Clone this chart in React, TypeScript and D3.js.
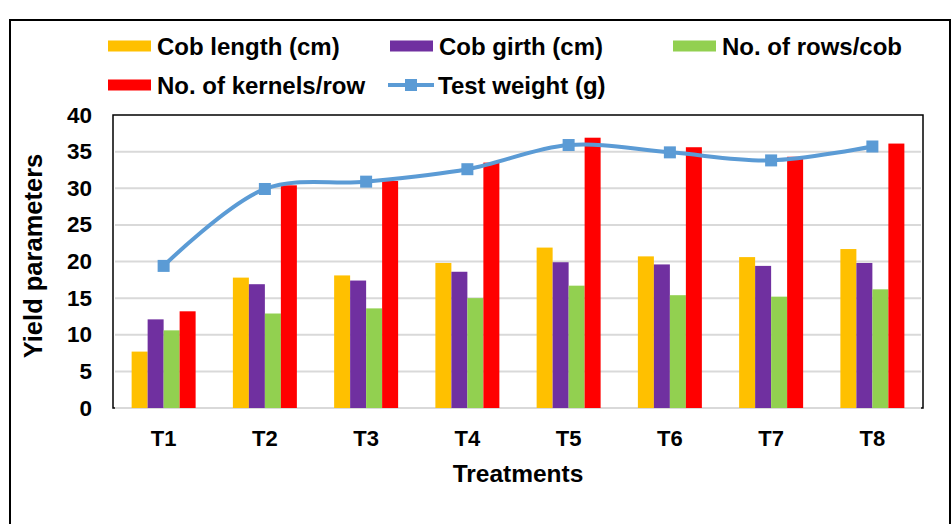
// Yield parameters by treatment: grouped bars (4 traits) + smoothed test-weight line.
import { useEffect, useRef } from "react";
import * as d3 from "d3";

const treatments = ["T1", "T2", "T3", "T4", "T5", "T6", "T7", "T8"];
const cobLength = [7.7, 17.8, 18.1, 19.8, 21.9, 20.7, 20.6, 21.7];
const cobGirth = [12.1, 16.9, 17.4, 18.6, 19.9, 19.6, 19.4, 19.8];
const rowsPerCob = [10.6, 12.9, 13.6, 15.0, 16.7, 15.4, 15.2, 16.2];
const kernelsPerRow = [13.2, 30.4, 31.0, 33.5, 36.9, 35.6, 34.3, 36.1];
const testWeight = [19.4, 29.9, 30.9, 32.6, 35.9, 34.9, 33.8, 35.7];
const yTicks = [0, 5, 10, 15, 20, 25, 30, 35, 40];

const barSeries = [
  { key: "Cob length (cm)", values: cobLength, color: "#ffc000" },
  { key: "Cob girth (cm)", values: cobGirth, color: "#7030a0" },
  { key: "No. of rows/cob", values: rowsPerCob, color: "#92d050" },
  { key: "No. of kernels/row", values: kernelsPerRow, color: "#ff0000" },
];
const LINE_COLOR = "#5b9bd5";
const FONT = "'Liberation Sans', Arial, sans-serif";

export default function App() {
  const ref = useRef<SVGSVGElement>(null);

  useEffect(() => {
    const svg = d3.select(ref.current!);
    svg.selectAll("*").remove();

    const H = 524;
    const plot = { left: 113, top: 115, right: 923, bottom: 408 };

    // outer frame
    svg
      .append("rect")
      .attr("x", 10)
      .attr("y", 20)
      .attr("width", 940)
      .attr("height", H)
      .attr("fill", "#fff")
      .attr("stroke", "#000")
      .attr("stroke-width", 2);

    const x0 = d3
      .scaleBand<string>()
      .domain(treatments)
      .range([plot.left, plot.right])
      .paddingInner(0.368)
      .paddingOuter(0.184);
    const x1 = d3
      .scaleBand<string>()
      .domain(barSeries.map((s) => s.key))
      .range([0, x0.bandwidth()]);
    const y = d3.scaleLinear().domain([0, 40]).range([plot.bottom, plot.top]);

    // plot-area border
    svg
      .append("rect")
      .attr("x", plot.left)
      .attr("y", plot.top)
      .attr("width", plot.right - plot.left)
      .attr("height", plot.bottom - plot.top)
      .attr("fill", "none")
      .attr("stroke", "#000")
      .attr("stroke-width", 1.5);

    // gridlines
    svg
      .append("g")
      .selectAll("line")
      .data(yTicks.filter((t) => t < 40))
      .join("line")
      .attr("x1", plot.left + 2)
      .attr("x2", plot.right - 2)
      .attr("y1", (d) => y(d))
      .attr("y2", (d) => y(d))
      .attr("stroke", "#d9d9d9")
      .attr("stroke-width", 2);

    // bars
    const groups = svg
      .append("g")
      .selectAll("g")
      .data(treatments)
      .join("g")
      .attr("transform", (d) => `translate(${x0(d)},0)`);
    groups
      .selectAll("rect")
      .data((_, i) => barSeries.map((s) => ({ key: s.key, color: s.color, v: s.values[i] })))
      .join("rect")
      .attr("x", (d) => x1(d.key)!)
      .attr("width", x1.bandwidth())
      .attr("y", (d) => y(d.v))
      .attr("height", (d) => y(0) - y(d.v))
      .attr("fill", (d) => d.color);

    // test weight line
    const cx = (t: string) => x0(t)! + x0.bandwidth() / 2;
    const line = d3
      .line<number>()
      .x((_, i) => cx(treatments[i]))
      .y((d) => y(d))
      .curve(d3.curveCatmullRom.alpha(0.5));
    svg
      .append("path")
      .attr("d", line(testWeight))
      .attr("fill", "none")
      .attr("stroke", LINE_COLOR)
      .attr("stroke-width", 4);
    svg
      .append("g")
      .selectAll("rect")
      .data(testWeight)
      .join("rect")
      .attr("x", (_, i) => cx(treatments[i]) - 6)
      .attr("y", (d) => y(d) - 6)
      .attr("width", 12)
      .attr("height", 12)
      .attr("fill", LINE_COLOR);

    // y tick labels
    svg
      .append("g")
      .selectAll("text")
      .data(yTicks)
      .join("text")
      .attr("x", 92)
      .attr("y", (d) => y(d) + 7.5)
      .attr("text-anchor", "end")
      .attr("font-family", FONT)
      .attr("font-weight", "bold")
      .attr("font-size", 22.5)
      .text((d) => d);

    // x tick labels
    svg
      .append("g")
      .selectAll("text")
      .data(treatments)
      .join("text")
      .attr("x", (d) => cx(d))
      .attr("y", 446)
      .attr("text-anchor", "middle")
      .attr("font-family", FONT)
      .attr("font-weight", "bold")
      .attr("font-size", 22)
      .text((d) => d);

    // axis titles
    svg
      .append("text")
      .attr("x", 518)
      .attr("y", 482)
      .attr("text-anchor", "middle")
      .attr("font-family", FONT)
      .attr("font-weight", "bold")
      .attr("font-size", 24.5)
      .text("Treatments");
    svg
      .append("text")
      .attr("transform", `translate(42,256) rotate(-90)`)
      .attr("text-anchor", "middle")
      .attr("font-family", FONT)
      .attr("font-weight", "bold")
      .attr("font-size", 25.5)
      .text("Yield parameters");

    // legend
    const legendItems = [
      { ...barSeries[0], x: 108, row: 0 },
      { ...barSeries[1], x: 390, row: 0 },
      { ...barSeries[2], x: 673, row: 0 },
      { ...barSeries[3], x: 108, row: 1 },
      { key: "Test weight (g)", color: LINE_COLOR, x: 388, row: 1, isLine: true },
    ];
    const leg = svg
      .append("g")
      .selectAll("g")
      .data(legendItems)
      .join("g")
      .attr("transform", (d) => `translate(${d.x},${d.row === 0 ? 46 : 85})`);
    leg.each(function (d: any) {
      const g = d3.select(this);
      if (d.isLine) {
        g.append("line")
          .attr("x1", 0)
          .attr("x2", 46)
          .attr("stroke", d.color)
          .attr("stroke-width", 4);
        g.append("rect")
          .attr("x", 17)
          .attr("y", -6)
          .attr("width", 12)
          .attr("height", 12)
          .attr("fill", d.color);
      } else {
        g.append("rect")
          .attr("x", 0)
          .attr("y", -5.5)
          .attr("width", 43)
          .attr("height", 11)
          .attr("fill", d.color);
      }
      g.append("text")
        .attr("x", d.isLine ? 50 : 49)
        .attr("y", 8.5)
        .attr("font-family", FONT)
        .attr("font-weight", "bold")
        .attr("font-size", 24)
        .text(d.key);
    });
  }, []);

  return (
    <>
      <style>{`body{margin:0}`}</style>
      <svg ref={ref} width={952} height={524} viewBox="0 0 952 524" style={{ display: "block" }} />
    </>
  );
}
